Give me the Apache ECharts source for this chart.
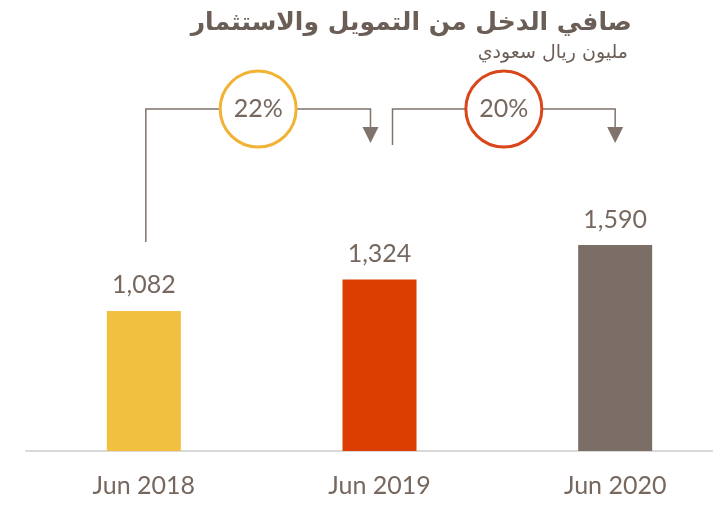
<!DOCTYPE html>
<html>
<head>
<meta charset="utf-8">
<script src="https://cdn.jsdelivr.net/npm/echarts@6/dist/echarts.min.js"></script>
<style>
  html, body { margin: 0; padding: 0; background: #fff; overflow: hidden; }
  /* canvas is a bit wider than the window: the axis runs off the right edge */
  #main { width: 733px; height: 507px; }
</style>
</head>
<body>
<div id="main"></div>
<script>
// data
const categories = ['Jun 2018', 'Jun 2019', 'Jun 2020']
const values = [1082, 1324, 1590]
const growth = ['22%', '20%']

const barColors = ['#F2C040', '#DB3E00', '#7B6E66']
const growthColors = ['#F2B233', '#D9461A']
const textColor = '#76685F'
const lineColor = '#7F736C'

const chart = echarts.init(document.getElementById('main'))

const option = {
  animation: false,
  title: [{
    text: 'صافي الدخل من التمويل والاستثمار',
    right: 96,
    top: 6,
    textStyle: {
      fontFamily: "'DejaVu Sans', sans-serif",
      fontWeight: 'bold',
      fontSize: 25,
      color: '#6B5E57'
    }
  }, {
    text: 'مليون ريال سعودي',
    right: 100,
    top: 39,
    textStyle: {
      fontFamily: "'DejaVu Sans', sans-serif",
      fontWeight: 'normal',
      fontSize: 19,
      color: '#6B5E57'
    }
  }],
  grid: {
    left: 26,
    right: 0,
    top: 192,
    bottom: 56
  },
  xAxis: {
    type: 'category',
    data: categories,
    axisLine: {
      lineStyle: { color: '#D9D9D9', width: 2 }
    },
    axisTick: { show: false },
    axisLabel: {
      margin: 22,
      fontFamily: 'Lato, sans-serif',
      fontSize: 25,
      color: textColor
    }
  },
  yAxis: {
    type: 'value',
    min: 0,
    max: 2000,
    show: false
  },
  series: [{
    type: 'bar',
    data: values,
    barWidth: 74,
    itemStyle: {
      color: p => barColors[p.dataIndex]
    },
    label: {
      show: true,
      position: 'top',
      distance: 13,
      fontFamily: 'Lato, sans-serif',
      fontSize: 25,
      color: textColor,
      formatter: p => p.value.toLocaleString('en-US')
    }
  }]
}
chart.setOption(option)

// growth connectors, placed from the category positions
const px = categories.map((c, i) => chart.convertToPixel({ gridIndex: 0 }, [i, 0])[0])
const lineY = 109
const arrowTop = 127
const arrowTip = 143
const connectors = [
  { x1: px[0] + 2, y1: 242, x2: px[1] - 9 },
  { x1: px[1] + 13, y1: 145, x2: px[2] }
]
const graphic = []
connectors.forEach((c, i) => {
  graphic.push({
    type: 'polyline',
    shape: { points: [[c.x1, c.y1], [c.x1, lineY], [c.x2, lineY], [c.x2, arrowTop + 1]] },
    style: { stroke: lineColor, lineWidth: 1.5, fill: null }
  })
  graphic.push({
    type: 'polygon',
    shape: { points: [[c.x2 - 8, arrowTop], [c.x2 + 8, arrowTop], [c.x2, arrowTip]] },
    style: { fill: lineColor }
  })
  const cx = (c.x1 + c.x2) / 2
  graphic.push({
    type: 'circle',
    shape: { cx: cx, cy: lineY, r: 38 },
    style: { fill: '#fff', stroke: growthColors[i], lineWidth: 3 }
  })
  graphic.push({
    type: 'text',
    x: cx,
    y: lineY,
    style: {
      text: growth[i],
      align: 'center',
      verticalAlign: 'middle',
      fontFamily: 'Lato, sans-serif',
      fontSize: 25,
      fill: textColor
    }
  })
})
chart.setOption({ graphic: graphic })
</script>
</body>
</html>
